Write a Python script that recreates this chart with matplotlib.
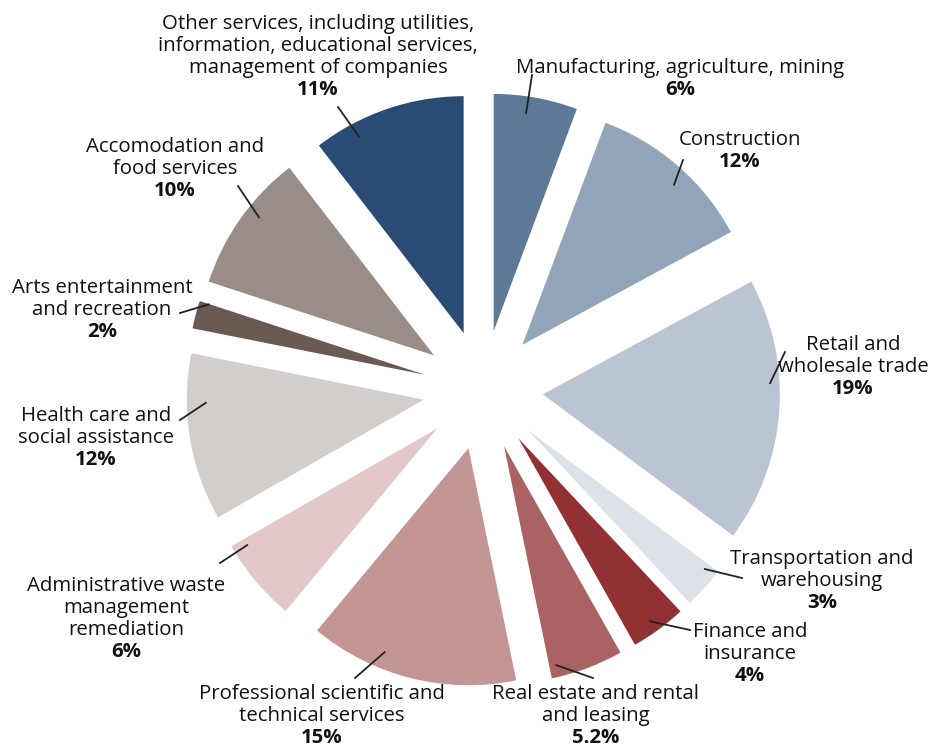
import numpy as np
import matplotlib
matplotlib.use("Agg")
import matplotlib.pyplot as plt

# Sectors, clockwise from 12 o'clock
sectors = [
    "Manufacturing, agriculture, mining",
    "Construction",
    "Retail and\nwholesale trade",
    "Transportation and\nwarehousing",
    "Finance and\ninsurance",
    "Real estate and rental\nand leasing",
    "Professional scientific and\ntechnical services",
    "Administrative waste\nmanagement\nremediation",
    "Health care and\nsocial assistance",
    "Arts entertainment\nand recreation",
    "Accomodation and\nfood services",
    "Other services, including utilities,\ninformation, educational services,\nmanagement of companies",
]
shares = [6, 12, 19, 3, 4, 5.2, 15, 6, 12, 2, 10, 11]
pct_labels = ["6%", "12%", "19%", "3%", "4%", "5.2%", "15%", "6%", "12%", "2%", "10%", "11%"]
colors = ["#5e7898", "#91a5b8", "#bbc4d3", "#dde2e8", "#923133", "#aa6263",
          "#c39594", "#e2c8c9", "#d3cecb", "#6b5953", "#9a8d88", "#2a4b74"]

W, H = 933, 748
plt.rcParams["font.family"] = ["Open Sans", "DejaVu Sans"]

fig = plt.figure(figsize=(W / 100, H / 100), dpi=100)
ax = fig.add_axes([0, 0, 1, 1])

R = 237
center = (483, H - 390)
wedges, _ = ax.pie(shares, colors=colors, startangle=90, counterclock=False,
                   radius=R, center=center, explode=[60] * len(shares),
                   wedgeprops=dict(linewidth=0))
ax.set_xlim(0, W)
ax.set_ylim(0, H)
ax.set_aspect("equal")
ax.axis("off")

# label layout (image pixel coords): text x, y of the percent line,
# leader end near text, anchor offset from bisector (deg) and radius fraction
label_x = [680, 740, 853, 822, 750, 596, 322, 126, 96, 102, 175, 318]
pct_y = [90, 162, 389, 603, 676, 738, 738, 652, 460, 332, 191, 90]
line_end = [(532, 75), (683, 160), (785, 352), (742, 578), (690, 630), (593, 678),
            (355, 678), (220, 563), (180, 420), (180, 313), (238, 186), (338, 107)]
anchor_delta = [1.8, -2.4, 6.9, 3.6, -0.6, -7.1, -8.3, -8.5, -8.4, -3.3, -3.0, 9.2]
anchor_rf = [0.93, 0.93, 0.96, 0.95, 0.95, 0.95, 0.93, 0.94, 0.92, 0.96, 0.94, 0.94]

fs = 14.7
for i, w in enumerate(wedges):
    mid = np.deg2rad((w.theta1 + w.theta2) / 2 + anchor_delta[i])
    cx, cy = w.center
    ax_pt = (cx + anchor_rf[i] * w.r * np.cos(mid), cy + anchor_rf[i] * w.r * np.sin(mid))
    ex, ey = line_end[i]
    ax.plot([ax_pt[0], ex], [ax_pt[1], H - ey], color="#222222", lw=1.3)
    ax.text(label_x[i], H - pct_y[i], pct_labels[i], ha="center", va="center",
            fontsize=fs, fontweight="bold", color="#111111")
    ax.text(label_x[i], H - pct_y[i] + 12, sectors[i], ha="center", va="bottom",
            fontsize=fs, color="#111111", linespacing=1.12)

fig.savefig("out.png", dpi=100, facecolor="white")
